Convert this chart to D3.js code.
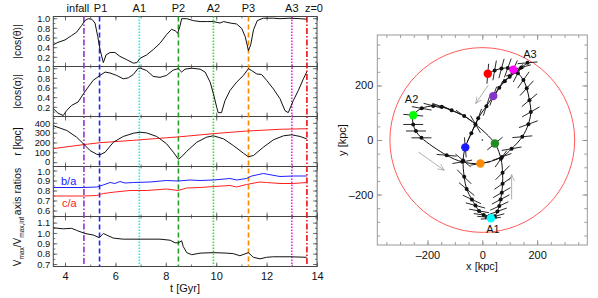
<!DOCTYPE html>
<html>
<head>
<meta charset="utf-8">
<script src="https://cdn.jsdelivr.net/npm/d3@7"></script>
<style>
body { margin: 0; background: #fff; }
text { font-family: "Liberation Sans", Arial, sans-serif; }
</style>
</head>
<body>
<svg id="chart"></svg>
<script>
// events along the orbit
var eventNames = ["infall", "P1", "A1", "P2", "A2", "P3", "A3", "z=0"];
var eventTimes = [4.75, 5.37, 6.95, 8.50, 9.89, 11.28, 13.0, 13.6];
var eventX = [40, -62, 31, 46, -252, -7, 113, 20];
var eventY = [161, -27, -287, -13, 91, -86, 258, 243];

// |cos(theta)|
var cosThetaT = [3.54, 3.72, 4.0, 4.26, 4.46, 4.66, 4.79, 4.92, 5.06, 5.19, 5.30, 5.39, 5.52, 5.63, 5.79, 5.98, 6.18, 6.45, 6.71, 6.85, 6.98, 7.24, 7.5, 7.77, 8.03, 8.23, 8.37, 8.47, 8.56, 8.63, 8.83, 9.09, 9.36, 9.62, 9.89, 10.15, 10.29, 10.55, 10.81, 11.01, 11.15, 11.28, 11.37, 11.48, 11.63, 11.87, 12.27, 12.53, 12.93, 13.33, 13.59];
var cosThetaV = [0.45, 0.50, 0.55, 0.64, 0.71, 0.85, 0.95, 0.99, 0.98, 0.90, 0.62, 0.35, 0.08, 0.24, 0.29, 0.29, 0.21, 0.14, 0.07, 0.08, 0.17, 0.24, 0.35, 0.48, 0.66, 0.77, 0.74, 0.69, 0.83, 0.99, 0.99, 0.95, 0.93, 0.93, 0.93, 0.90, 0.93, 0.90, 0.88, 0.79, 0.62, 0.33, 0.45, 0.76, 0.95, 1.0, 1.0, 0.99, 1.0, 0.99, 0.98];

// |cos(alpha)|
var cosAlphaT = [3.54, 3.72, 3.93, 4.06, 4.26, 4.52, 4.73, 4.92, 5.12, 5.39, 5.59, 5.79, 6.05, 6.31, 6.51, 6.71, 6.91, 7.0, 7.24, 7.5, 7.77, 8.03, 8.29, 8.49, 8.63, 8.76, 9.03, 9.36, 9.56, 9.76, 9.89, 10.02, 10.08, 10.21, 10.35, 10.55, 10.81, 11.08, 11.28, 11.41, 11.61, 11.8, 12.0, 12.27, 12.53, 12.73, 12.86, 13.06, 13.26, 13.46, 13.59];
var cosAlphaV = [0.16, 0.07, 0.02, 0.12, 0.23, 0.30, 0.47, 0.61, 0.75, 0.85, 0.92, 0.90, 0.85, 0.78, 0.80, 0.87, 1.0, 1.0, 0.95, 0.83, 0.81, 0.85, 0.96, 0.99, 0.92, 0.98, 1.0, 0.98, 0.92, 0.71, 0.47, 0.19, 0.08, 0.08, 0.33, 0.54, 0.71, 0.85, 0.99, 0.95, 0.88, 0.87, 0.75, 0.57, 0.37, 0.12, 0.08, 0.33, 0.54, 0.78, 0.92];

// orbital radius and virial radius [kpc]
var radiusT = [3.54, 4.07, 4.46, 4.73, 4.99, 5.26, 5.39, 5.59, 5.92, 6.31, 6.71, 6.98, 7.24, 7.64, 8.03, 8.3, 8.5, 8.63, 8.83, 9.23, 9.62, 9.89, 10.29, 10.68, 11.08, 11.28, 11.48, 11.87, 12.27, 12.67, 13.0, 13.33, 13.59];
var radiusV = [370, 322, 254, 187, 119, 80, 75, 101, 203, 261, 294, 304, 297, 261, 187, 101, 30, 55, 110, 203, 254, 268, 237, 169, 91, 55, 68, 152, 227, 268, 278, 261, 237];
var rvirT = [3.54, 4.73, 5.39, 6.71, 8.03, 8.56, 9.89, 11.2, 12.53, 13.59];
var rvirV = [138, 178, 198, 222, 248, 258, 290, 316, 334, 340];

// axis ratios
var baT = [3.54, 4.73, 5.26, 5.52, 5.79, 5.98, 6.18, 6.38, 6.71, 7.37, 8.03, 8.49, 8.96, 9.36, 9.89, 10.55, 10.81, 11.2, 11.41, 11.87, 12.53, 13.06, 13.59];
var baV = [0.83, 0.83, 0.835, 0.856, 0.88, 0.87, 0.89, 0.875, 0.88, 0.885, 0.90, 0.895, 0.905, 0.90, 0.905, 0.92, 0.905, 0.92, 0.945, 0.97, 0.94, 0.945, 0.945];
var caT = [3.54, 4.73, 5.26, 5.52, 5.98, 6.58, 7.24, 8.03, 8.49, 8.83, 9.36, 9.89, 10.55, 10.81, 11.2, 11.73, 12.0, 12.53, 13.06, 13.59];
var caV = [0.745, 0.745, 0.75, 0.77, 0.785, 0.80, 0.80, 0.815, 0.80, 0.825, 0.83, 0.84, 0.85, 0.835, 0.86, 0.885, 0.88, 0.87, 0.87, 0.88];

// Vmax / Vmax,inf
var vmaxT = [3.54, 3.93, 4.26, 4.46, 4.79, 5.12, 5.36, 5.52, 5.65, 5.92, 6.31, 6.97, 7.77, 8.17, 8.37, 8.5, 8.63, 8.69, 8.83, 9.03, 9.36, 9.89, 10.42, 10.68, 10.94, 11.28, 11.47, 11.74, 12.0, 12.27, 12.93, 13.59];
var vmaxV = [1.05, 1.04, 1.045, 1.025, 0.995, 0.98, 0.955, 0.995, 0.98, 0.95, 0.94, 0.94, 0.94, 0.93, 0.905, 0.905, 0.925, 0.87, 0.81, 0.79, 0.805, 0.81, 0.805, 0.80, 0.78, 0.81, 0.765, 0.75, 0.765, 0.77, 0.77, 0.765];

// orbit in the x-y plane [kpc], with major-axis orientation [deg]
var orbitX = [165, 142, 120, 100, 82, 62, 40, 15, -15, -40, -62, -70, -66, -57, -38, -25, -12, 5, 18, 31, 45, 55, 62, 67, 71, 74, 74, 68, 46, -25, -66, -112, -148, -179, -221, -252, -252, -242, -222, -130, -73, -7, 72, 107, 146, 168, 177, 172, 162, 150, 130, 113, 93, 70, 45, 20];
var orbitY = [283, 266, 250, 232, 215, 192, 161, 124, 80, 25, -27, -75, -135, -180, -218, -240, -260, -275, -283, -287, -280, -262, -242, -218, -193, -160, -120, -69, -13, 58, 88, 109, 122, 125, 116, 91, 57, 33, 8, -56, -80, -86, -62, -32, 12, 58, 103, 146, 190, 220, 245, 258, 264, 262, 255, 243];
var barAngle = [5, 15, 25, 35, 45, 60, 70, 72, 70, 65, 95, -40, -45, -40, -25, -15, -10, -8, -5, 5, 15, 20, 25, 28, 30, 35, 45, 55, 40, -60, -35, -25, -20, -15, -10, -5, 0, 0, 0, -5, 10, 10, 20, 10, 5, 20, 30, 40, 48, 55, 62, 66, 70, 75, 80, 85];
var rvirNow = 337;

// direction arrows [kpc]
var arrowX0 = [22, -233, 107], arrowY0 = [201, -44, -218];
var arrowX1 = [-24, -139, 107], arrowY1 = [134, -111, -127];
var orbitLabels = ["A1", "A2", "A3"];
var orbitLabelX = [39, -258, 174], orbitLabelY = [-328, 150, 314];

// styles
var lineColor = ["#9933cc", "#2222ff", "#22e8e8", "#22a022", "#33dd33", "#ff8800", "#ee22ee", "#ee1111"];
var dotColor = ["#8833cc", "#1a1aff", "#00ffff", "#228b22", "#00ff00", "#ff8c00", "#ff00ff", "#ff0000"];
var lineDash = ["6,2,1.5,2", "5,3", "1.5,1.5", "5,3", "1.5,1.5", "5,3", "1.5,1.5", "6,2,1.5,2"];
var labelDx = [-6, 1, 0, 0, 0, 0, 0, 7];

var svg = d3.select("#chart").attr("width", 598).attr("height", 298);
svg.append("rect").attr("width", 598).attr("height", 298).attr("fill", "#fff");

// ---------- left: time panels ----------
var left = 53.3, right = 317, top0 = 16.5, panelH = 50;
var x = d3.scaleLinear().domain([3.535, 14]).range([left, right]);

var panels = [
  {d: [0, 1.035], ticks: [0.2, 0.4, 0.6, 0.8, 1.0], minor: d3.range(0.1, 1.01, 0.1), fmt: ".1f"},
  {d: [0, 1.035], ticks: [0.2, 0.4, 0.6, 0.8, 1.0], minor: d3.range(0.1, 1.01, 0.1), fmt: ".1f"},
  {d: [-44, 464], ticks: [0, 100, 200, 300, 400], minor: d3.range(0, 451, 50), fmt: "d"},
  {d: [0.54, 1.04], ticks: [0.6, 0.7, 0.8, 0.9, 1.0], minor: d3.range(0.55, 1.031, 0.05), fmt: ".1f"},
  {d: [0.676, 1.159], ticks: [0.7, 0.8, 0.9, 1.0, 1.1], minor: d3.range(0.7, 1.151, 0.05), fmt: ".1f"}
];

var ys = panels.map(function(p, i) {
  return d3.scaleLinear().domain(p.d).range([top0 + (i + 1) * panelH, top0 + i * panelH]);
});

var xMajor = [4, 6, 8, 10, 12, 14];
var xMinor = d3.range(4, 14.01, 1);

panels.forEach(function(p, i) {
  var y = ys[i];
  var g = svg.append("g");
  var yTop = top0 + i * panelH, yBot = yTop + panelH;

  var ya = g.append("g").attr("transform", "translate(" + left + ",0)")
    .call(d3.axisLeft(y).tickValues(p.ticks).tickSize(-4).tickPadding(3).tickFormat(d3.format(p.fmt)));
  g.append("g").attr("transform", "translate(" + left + ",0)")
    .call(d3.axisLeft(y).tickValues(p.minor).tickSize(-2).tickFormat(""));
  g.append("g").attr("transform", "translate(" + right + ",0)")
    .call(d3.axisRight(y).tickValues(p.ticks).tickSize(-4).tickFormat(""));
  g.append("g").attr("transform", "translate(" + right + ",0)")
    .call(d3.axisRight(y).tickValues(p.minor).tickSize(-2).tickFormat(""));
  g.append("g").attr("transform", "translate(0," + yTop + ")")
    .call(d3.axisTop(x).tickValues(xMajor).tickSize(-4).tickFormat(""));
  g.append("g").attr("transform", "translate(0," + yTop + ")")
    .call(d3.axisTop(x).tickValues(xMinor).tickSize(-2).tickFormat(""));
  var bx = g.append("g").attr("transform", "translate(0," + yBot + ")");
  if (i === panels.length - 1) {
    bx.call(d3.axisBottom(x).tickValues(xMajor).tickSize(-4).tickPadding(6).tickFormat(d3.format("d")));
  } else {
    bx.call(d3.axisBottom(x).tickValues(xMajor).tickSize(-4).tickFormat(""));
  }
  g.append("g").attr("transform", "translate(0," + yBot + ")")
    .call(d3.axisBottom(x).tickValues(xMinor).tickSize(-2).tickFormat(""));

  g.selectAll(".domain").remove();
  g.selectAll(".tick line").attr("stroke", "#555").attr("stroke-width", 0.8);
  g.selectAll(".tick text").attr("font-size", 11).attr("fill", "#111")
    .attr("font-family", "'Liberation Sans', Arial, sans-serif");
  ya.selectAll(".tick text").attr("font-size", 9.4).attr("dy", "0.34em");
  // labels touching at the r / axis-ratio boundary: pull them apart a hair
  if (i === 2) ya.selectAll(".tick text").filter(function(d) { return d === 0; }).attr("dy", "0.3em");
  if (i === 3) ya.selectAll(".tick text").filter(function(d) { return d === 1.0; }).attr("dy", "0.44em");

  g.append("rect").attr("x", left).attr("y", yTop).attr("width", right - left).attr("height", panelH)
    .attr("fill", "none").attr("stroke", "#444").attr("stroke-width", 1);
});

// event lines
eventTimes.forEach(function(t, i) {
  svg.append("line")
    .attr("x1", x(t)).attr("x2", x(t))
    .attr("y1", top0).attr("y2", top0 + 5 * panelH)
    .attr("stroke", lineColor[i]).attr("stroke-width", 1.6)
    .attr("stroke-dasharray", lineDash[i]);
  svg.append("text")
    .attr("x", x(t) + labelDx[i]).attr("y", 12)
    .attr("text-anchor", "middle").attr("font-size", 11).attr("fill", "#111")
    .text(eventNames[i]);
});

function series(ts, vs) {
  return ts.map(function(t, i) { return [t, vs[i]]; });
}
function drawCurve(data, y, color) {
  var line = d3.line().x(function(d) { return x(d[0]); }).y(function(d) { return y(d[1]); });
  svg.append("path").datum(data).attr("d", line)
    .attr("fill", "none").attr("stroke", color).attr("stroke-width", 1).attr("stroke-linejoin", "round");
}

drawCurve(series(cosThetaT, cosThetaV), ys[0], "#111");
drawCurve(series(cosAlphaT, cosAlphaV), ys[1], "#111");
drawCurve(series(rvirT, rvirV), ys[2], "#ff2020");
drawCurve(series(radiusT, radiusV), ys[2], "#111");
drawCurve(series(baT, baV), ys[3], "#2020ff");
drawCurve(series(caT, caV), ys[3], "#ff2020");
drawCurve(series(vmaxT, vmaxV), ys[4], "#111");

svg.append("text").attr("x", 61).attr("y", 185).attr("font-size", 11).attr("fill", "#2020ff").text("b/a");
svg.append("text").attr("x", 62).attr("y", 207).attr("font-size", 11).attr("fill", "#ff2020").text("c/a");

// y titles
var yTitles = ["|cos(θ)|", "|cos(α)|", "r [kpc]", "axis ratios"];
yTitles.forEach(function(s, i) {
  var cy = top0 + (i + 0.5) * panelH;
  svg.append("text").attr("transform", "translate(21," + cy + ") rotate(-90)")
    .attr("text-anchor", "middle").attr("font-size", 10.5).attr("fill", "#111").text(s);
});
var vt = svg.append("text").attr("transform", "translate(21," + (top0 + 4.5 * panelH) + ") rotate(-90)")
  .attr("text-anchor", "middle").attr("font-size", 10).attr("fill", "#111");
vt.append("tspan").text("V");
vt.append("tspan").attr("font-size", 6.5).attr("dy", 2.5).text("max");
vt.append("tspan").attr("dy", -2.5).text("/V");
vt.append("tspan").attr("font-size", 6.5).attr("dy", 2.5).text("max,inf");

svg.append("text").attr("x", 185).attr("y", 292).attr("text-anchor", "middle")
  .attr("font-size", 11).attr("fill", "#111").text("t [Gyr]");

// ---------- right: orbit ----------
var xk = d3.scaleLinear().domain([-383, 383]).range([377.3, 587.3]);
var yk = d3.scaleLinear().domain([-385, 385]).range([245, 35]);
var rg = svg.append("g");

var kMajor = [-200, 0, 200];
var kMinor = d3.range(-350, 351, 50);
function kAxis(axisFn, scale, tx, ty, vals, size, labels, pad) {
  var a = axisFn(scale).tickValues(vals).tickSize(size).tickPadding(pad || 3);
  if (!labels) a.tickFormat("");
  else a.tickFormat(d3.format("d"));
  rg.append("g").attr("transform", "translate(" + tx + "," + ty + ")").call(a);
}
kAxis(d3.axisBottom, xk, 0, 245, kMajor, -5, true, 6);
kAxis(d3.axisBottom, xk, 0, 245, kMinor, -3, false);
kAxis(d3.axisTop, xk, 0, 35, kMajor, -5, false);
kAxis(d3.axisTop, xk, 0, 35, kMinor, -3, false);
kAxis(d3.axisLeft, yk, 377.3, 0, kMajor, -5, true, 4);
kAxis(d3.axisLeft, yk, 377.3, 0, kMinor, -3, false);
kAxis(d3.axisRight, yk, 587.3, 0, kMajor, -5, false);
kAxis(d3.axisRight, yk, 587.3, 0, kMinor, -3, false);
rg.selectAll(".domain").remove();
rg.selectAll(".tick line").attr("stroke", "#888").attr("stroke-width", 0.8);
rg.selectAll(".tick text").attr("font-size", 11).attr("fill", "#111")
  .attr("font-family", "'Liberation Sans', Arial, sans-serif");
rg.selectAll(".tick text").text(function() { return this.textContent.replace("−", "–"); });
rg.append("rect").attr("x", 377.3).attr("y", 35).attr("width", 210).attr("height", 210)
  .attr("fill", "none").attr("stroke", "#999").attr("stroke-width", 1);

svg.append("text").attr("x", 482).attr("y", 270).attr("text-anchor", "middle")
  .attr("font-size", 11).attr("fill", "#111").text("x [kpc]");
svg.append("text").attr("transform", "translate(346,140) rotate(-90)").attr("text-anchor", "middle")
  .attr("font-size", 11).attr("fill", "#111").text("y [kpc]");

// virial radius today
svg.append("circle").attr("cx", xk(0)).attr("cy", yk(0))
  .attr("r", xk(rvirNow) - xk(0)).attr("fill", "none").attr("stroke", "#ff3030").attr("stroke-width", 0.8);
svg.append("circle").attr("cx", xk(0)).attr("cy", yk(0)).attr("r", 0.8).attr("fill", "#111");

// arrows
var defs = svg.append("defs");
defs.append("marker").attr("id", "arr").attr("viewBox", "0 0 10 10").attr("refX", 9).attr("refY", 5)
  .attr("markerWidth", 9).attr("markerHeight", 9).attr("orient", "auto")
  .append("path").attr("d", "M0,1 L9,5 L0,9").attr("fill", "none").attr("stroke", "#999").attr("stroke-width", 0.9);
arrowX0.forEach(function(d, i) {
  svg.append("line").attr("x1", xk(arrowX0[i])).attr("y1", yk(arrowY0[i]))
    .attr("x2", xk(arrowX1[i])).attr("y2", yk(arrowY1[i]))
    .attr("stroke", "#999").attr("stroke-width", 0.8).attr("marker-end", "url(#arr)");
});

// orbit
var orbit = orbitX.map(function(d, i) { return [orbitX[i], orbitY[i], barAngle[i]]; });
var orbitLine = d3.line().x(function(d) { return xk(d[0]); }).y(function(d) { return yk(d[1]); })
  .curve(d3.curveCatmullRom.alpha(0.5));
svg.append("path").datum(orbit).attr("d", orbitLine)
  .attr("fill", "none").attr("stroke", "#111").attr("stroke-width", 1);

var barLen = 20;
svg.selectAll(".bar").data(orbit).enter().append("line")
  .attr("x1", function(d) { return xk(d[0]) - Math.cos(d[2] * Math.PI / 180) * barLen / 2; })
  .attr("x2", function(d) { return xk(d[0]) + Math.cos(d[2] * Math.PI / 180) * barLen / 2; })
  .attr("y1", function(d) { return yk(d[1]) + Math.sin(d[2] * Math.PI / 180) * barLen / 2; })
  .attr("y2", function(d) { return yk(d[1]) - Math.sin(d[2] * Math.PI / 180) * barLen / 2; })
  .attr("stroke", "#111").attr("stroke-width", 0.9);
svg.selectAll(".odot").data(orbit).enter().append("circle")
  .attr("cx", function(d) { return xk(d[0]); }).attr("cy", function(d) { return yk(d[1]); })
  .attr("r", 2).attr("fill", "#111");

eventX.forEach(function(d, i) {
  svg.append("circle").attr("cx", xk(eventX[i])).attr("cy", yk(eventY[i]))
    .attr("r", 4.2).attr("fill", dotColor[i]);
});
orbitLabels.forEach(function(s, i) {
  svg.append("text").attr("x", xk(orbitLabelX[i])).attr("y", yk(orbitLabelY[i]) + 4)
    .attr("text-anchor", "middle").attr("font-size", 11).attr("fill", "#111").text(s);
});
</script>
</body>
</html>
